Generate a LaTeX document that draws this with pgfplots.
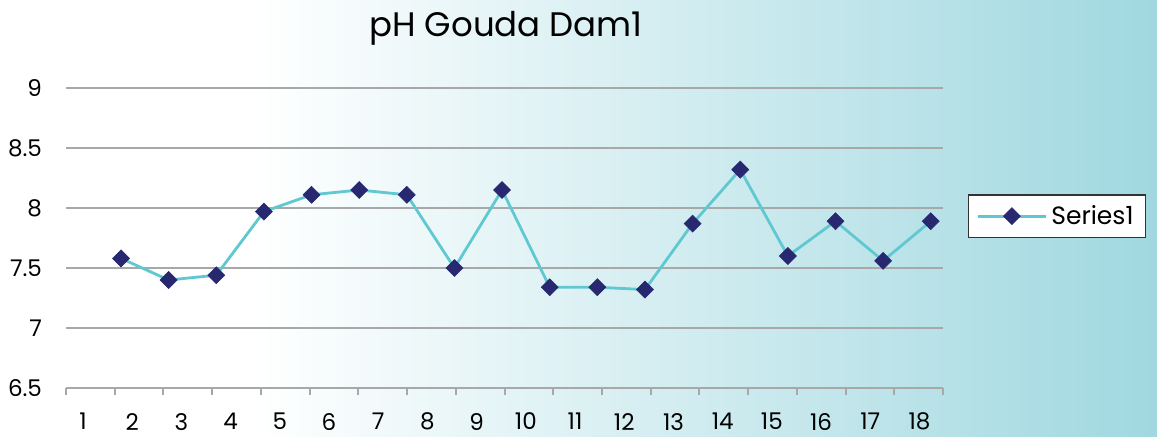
\documentclass[border=0pt]{standalone}
\usepackage{pgfplots}
\pgfplotsset{compat=1.18}
\usepackage{fontspec}
\setmainfont{Poppins}

\definecolor{bgteal}{RGB}{160,216,224}
\definecolor{linecol}{RGB}{96,200,208}
\definecolor{markcol}{RGB}{40,40,112}
\definecolor{gridcol}{RGB}{168,168,168}

\pgfdeclarehorizontalshading{bgshade}{100bp}{color(0bp)=(white); color(25bp)=(white); color(36bp)=(white); color(75bp)=(bgteal); color(100bp)=(bgteal)}

\begin{document}
\begin{tikzpicture}
\useasboundingbox (0,0) rectangle (578.5pt,218pt);
\shade[shading=bgshade] (0,0) rectangle (578.5pt,218pt);
\node[font=\fontsize{17}{20}\selectfont] at (253pt,204pt) {pH Gouda Dam1};
\begin{axis}[
    at={(33pt,24pt)}, anchor=south west,
    scale only axis,
    width=438.5pt, height=150pt,
    xmin=-0.155, xmax=18.257,
    ymin=6.5, ymax=9,
    axis x line*=bottom, axis y line*=left,
    y axis line style={draw=none},
    x axis line style={gridcol, line width=1pt},
    ytick={6.5,7,7.5,8,8.5,9},
    ymajorgrids,
    grid style={gridcol, line width=1pt},
    ytick style={draw=none},
    yticklabel style={font=\fontsize{11.5}{13}\selectfont, xshift=-5pt},
    /pgf/number format/assume math mode=true,
    tick align=outside,
    xtick={-0.155,0.868,1.891,2.914,3.937,4.960,5.982,7.005,8.028,9.051,10.074,11.097,12.120,13.143,14.166,15.189,16.211,17.234,18.257},
    xticklabels={},
    xtick style={draw=gridcol, line width=1pt},
    major tick length=3.5pt,
    extra x ticks={0.202,1.235,2.268,3.301,4.334,5.367,6.4,7.433,8.466,9.499,10.532,11.565,12.598,13.631,14.664,15.697,16.73,17.763},
    extra x tick labels={1,2,3,4,5,6,7,8,9,10,11,12,13,14,15,16,17,18},
    extra x tick style={major tick length=0pt, xticklabel style={font=\fontsize{11.5}{13}\selectfont, yshift=-9pt}},
    legend style={at={(1.130,0.573)}, anchor=center, draw=black!80, line width=0.6pt, fill=white,
      font=\fontsize{12.5}{15}\selectfont, inner xsep=4pt, inner ysep=3pt},
    legend image code/.code={\draw[mark repeat=2,mark phase=2] plot coordinates {(0pt,0pt)(17pt,0pt)(34pt,0pt)};},
]
\addplot[color=linecol, line width=1.4pt, mark=square*, mark size=3pt,
  mark options={fill=markcol, draw=markcol, line width=0.3pt, rotate=45}]
  coordinates {
  (1,7.58) (2,7.40) (3,7.44) (4,7.97) (5,8.11) (6,8.15) (7,8.11) (8,7.50) (9,8.15)
  (10,7.34) (11,7.34) (12,7.32) (13,7.87) (14,8.32) (15,7.60) (16,7.89) (17,7.56) (18,7.89)
  };
\addlegendentry{Series1}
\end{axis}
\end{tikzpicture}
\end{document}
